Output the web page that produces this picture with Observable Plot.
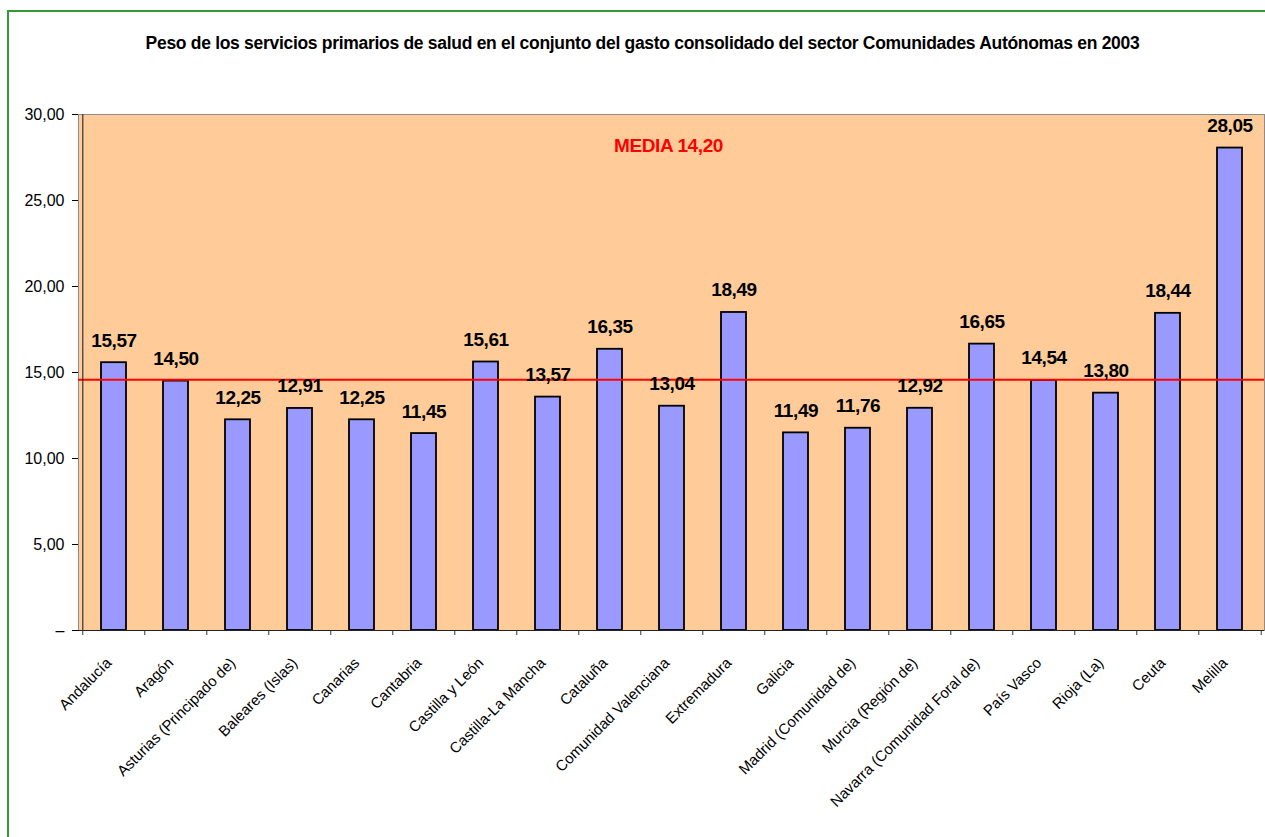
<!DOCTYPE html>
<html>
<head>
<meta charset="utf-8">
<script src="https://cdn.jsdelivr.net/npm/d3@7"></script>
<script src="https://cdn.jsdelivr.net/npm/@observablehq/plot@0.6"></script>
<style>
  html, body { margin: 0; padding: 0; background: #fff; overflow: hidden; }
  #wrap { position: relative; width: 1265px; height: 837px; overflow: hidden; font-family: "Liberation Sans", Arial, sans-serif; }
  #border { position: absolute; left: 7px; top: 10px; width: 1320px; height: 900px; border: 2px solid #339933; box-sizing: border-box; }
  #title { position: absolute; left: 0; top: 33px; width: 1285px; text-align: center; font-weight: bold; font-size: 17.5px; letter-spacing: -0.3px; color: #000; }
  #chart { position: absolute; left: 0; top: 0; }
  #chart svg g[aria-label="text"] text { letter-spacing: -0.4px; }
</style>
</head>
<body>
<div id="wrap">
  <div id="border"></div>
  <div id="chart"></div>
  <div id="title"></div>
</div>
<script>
const titulo = "Peso de los servicios primarios de salud en el conjunto del gasto consolidado del sector Comunidades Autónomas en 2003";

const regiones = [
  "Andalucía", "Aragón", "Asturias (Principado de)", "Baleares (Islas)", "Canarias",
  "Cantabria", "Castilla y León", "Castilla-La Mancha", "Cataluña", "Comunidad Valenciana",
  "Extremadura", "Galicia", "Madrid (Comunidad de)", "Murcia (Región de)",
  "Navarra (Comunidad Foral de)", "País Vasco", "Rioja (La)", "Ceuta", "Melilla"
];
const valores = [
  15.57, 14.50, 12.25, 12.91, 12.25,
  11.45, 15.61, 13.57, 16.35, 13.04,
  18.49, 11.49, 11.76, 12.92,
  16.65, 14.54, 13.80, 18.44, 28.05
];
const lineaMedia = 14.58;
const textoMedia = "MEDIA 14,20";
const yTicks = [0, 5, 10, 15, 20, 25, 30];
const yTickLabels = ["–", "5,00", "10,00", "15,00", "20,00", "25,00", "30,00"];

document.getElementById("title").textContent = titulo;

const datos = regiones.map((r, i) => ({region: r, valor: valores[i]}));
const fmt = v => v.toFixed(2).replace(".", ",");

const W = 1265, H = 837, mL = 78, mR = 1, mT = 114, mB = 207;
const step = (W - mL - mR) / regiones.length;

const chart = Plot.plot({
  width: W,
  height: H,
  marginLeft: mL,
  marginRight: mR,
  marginTop: mT,
  marginBottom: mB,
  style: {fontFamily: "'Liberation Sans', Arial, sans-serif", fontSize: "15px", background: "transparent", color: "#000"},
  x: {type: "band", domain: regiones, paddingInner: 0.6, paddingOuter: 0.3, label: null},
  y: {domain: [0, 30], label: null},
  marks: [
    Plot.frame({fill: "#FFCC99", stroke: "#8c8c8c"}),
    Plot.barY(datos, {x: "region", y: "valor", fill: "#9999FF", stroke: "#000", strokeWidth: 1.8}),
    Plot.ruleY([lineaMedia], {stroke: "#FF0000", strokeWidth: 2}),
    Plot.ruleY([0], {stroke: "#222", strokeWidth: 1.2}),
    Plot.ruleX([regiones[0]], {dx: -step / 2, y1: 0, y2: 30, stroke: "#333", strokeWidth: 1.2}),
    Plot.ruleX(regiones, {dx: -step / 2, y1: 0, y2: 0, insetBottom: -5, stroke: "#333"}),
    Plot.ruleX([regiones[regiones.length - 1]], {dx: step / 2, y1: 0, y2: 0, insetBottom: -5, stroke: "#333"}),
    Plot.axisY({ticks: yTicks, tickFormat: d => yTickLabels[yTicks.indexOf(d)], tickSize: 6, tickPadding: 8, label: null, fontSize: 16}),
    Plot.axisX({tickSize: 0, tickRotate: -45, tickPadding: 30, dx: -5, label: null, fontSize: 15}),
    Plot.text(datos, {x: "region", y: "valor", text: d => fmt(d.valor), dy: -16, lineAnchor: "bottom", fontSize: 19, fontWeight: "bold", fill: "#000"}),
    Plot.text([textoMedia], {frameAnchor: "top", lineAnchor: "top", dy: 24, dx: -3, fill: "#FF0000", fontSize: 19, fontWeight: "bold"})
  ]
});
document.getElementById("chart").appendChild(chart);
</script>
</body>
</html>
